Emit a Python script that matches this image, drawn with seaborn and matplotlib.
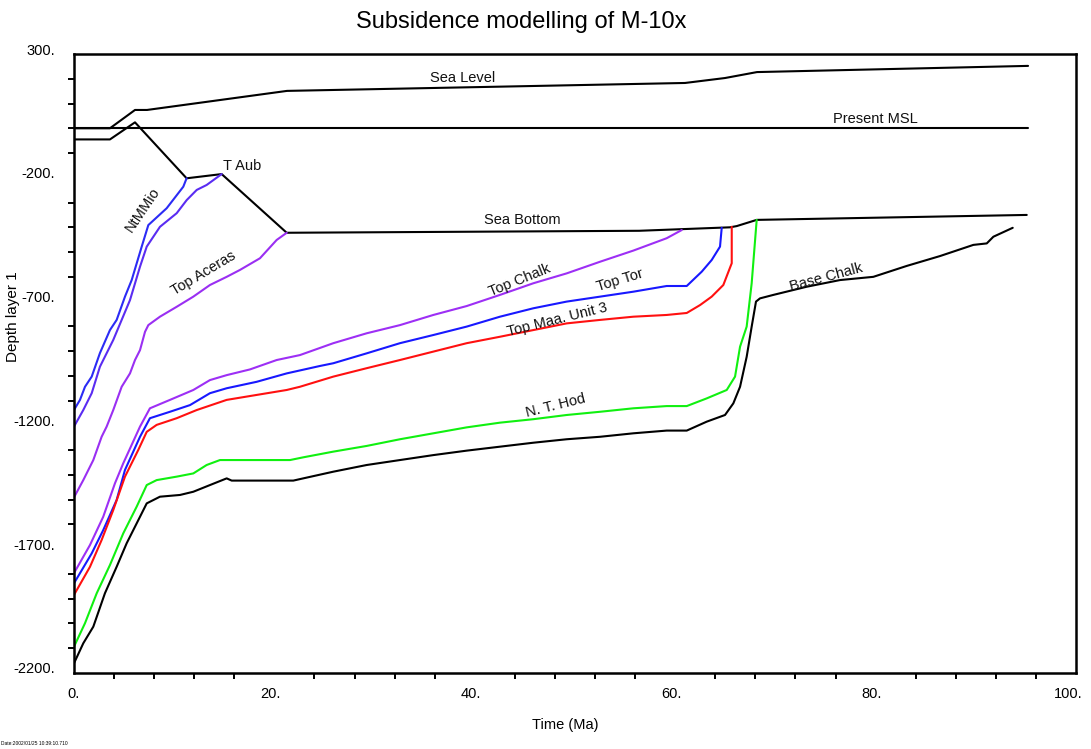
import numpy as np
import pandas as pd
import matplotlib
matplotlib.use("Agg")
import matplotlib.pyplot as plt
from matplotlib.ticker import MultipleLocator, FixedLocator
from matplotlib.transforms import ScaledTranslation
import seaborn as sns

# ---------------------------------------------------------------- data
# Time in Ma, depth in m (positive up)
sea_level_t = [0.0, 3.59, 6.09, 7.29, 21.26, 60.98, 64.97, 68.16, 95.21]
sea_level_d = [0, 0, 74, 74, 151, 183, 203, 227, 252]

msl_t = [0.0, 95.2]
msl_d = [0, 0]

sea_bottom_t = [0.0, 3.59, 6.09, 11.24, 14.74, 21.23, 56.4, 65.47, 66.14, 68.13, 95.08]
sea_bottom_d = [-45, -45, 24, -202, -185, -422, -414, -400, -395, -370, -350]

ntmmio_t = [0.0, 0.6, 1.1, 1.77, 2.59, 3.59, 4.26, 5.09, 5.76, 6.76, 7.42, 9.25, 10.91, 11.24]
ntmmio_d = [-1138, -1097, -1044, -1003, -908, -815, -774, -680, -613, -478, -391, -323, -236, -202]

taub_t = [0.0, 0.93, 1.77, 2.59, 3.92, 4.76, 5.59, 6.59, 7.26, 8.58, 10.25, 11.25, 12.25, 13.24, 14.74]
taub_d = [-1205, -1138, -1070, -963, -855, -774, -694, -559, -478, -398, -343, -290, -249, -229, -185]

aceras_t = [0.0, 0.93, 1.93, 2.76, 3.26, 3.92, 4.76, 5.59, 6.09, 6.59, 7.09, 7.42, 8.58, 10.25,
            11.91, 13.57, 15.24, 16.57, 18.56, 20.23, 21.23]
aceras_d = [-1491, -1421, -1340, -1246, -1205, -1138, -1044, -990, -936, -896, -822, -795, -761, -721,
            -680, -633, -600, -572, -525, -451, -422]

chalk_t = [0.0, 1.6, 2.92, 4.09, 4.92, 6.59, 7.58, 9.58, 11.91, 13.57, 15.24, 17.56, 20.23, 22.55,
           25.88, 29.21, 32.53, 35.86, 39.19, 42.51, 45.84, 49.17, 52.5, 55.82, 59.15, 60.65]
chalk_d = [-1797, -1683, -1569, -1434, -1353, -1205, -1131, -1097, -1057, -1017, -997, -974, -936, -916,
           -868, -828, -795, -754, -718, -673, -626, -586, -539, -494, -444, -411]

tor_t = [0.0, 1.77, 2.92, 4.26, 5.09, 6.59, 7.58, 9.58, 11.58, 13.57, 15.24, 18.23, 21.23, 24.55,
         25.88, 29.21, 32.53, 35.86, 39.19, 42.51, 45.84, 49.17, 52.5, 55.82, 59.15, 61.15,
         62.65, 63.64, 64.47, 64.64]
tor_d = [-1838, -1717, -1623, -1501, -1380, -1246, -1171, -1145, -1118, -1070, -1050, -1024, -990, -960,
         -949, -909, -868, -835, -801, -761, -727, -700, -680, -660, -637, -637,
         -579, -532, -478, -402]

maa_t = [0.0, 1.6, 2.76, 3.92, 5.09, 6.42, 7.26, 8.25, 10.25, 12.25, 15.24, 18.23, 21.23, 22.55,
         25.88, 29.21, 32.53, 35.86, 39.19, 42.51, 45.84, 49.17, 52.5, 55.82, 59.15, 61.15,
         62.48, 63.64, 64.8, 65.64, 65.64]
maa_d = [-1885, -1771, -1663, -1542, -1407, -1299, -1226, -1198, -1171, -1138, -1097, -1077, -1057, -1044,
         -1003, -969, -936, -902, -868, -842, -815, -788, -774, -761, -754, -746,
         -714, -680, -633, -545, -398]

hod_t = [0.0, 1.1, 2.27, 3.59, 4.92, 6.26, 7.26, 8.25, 10.25, 11.91, 13.24, 14.57, 21.56, 22.88,
         25.88, 29.21, 32.53, 35.86, 39.19, 42.51, 45.84, 49.17, 52.5, 55.82, 59.15, 61.15,
         63.14, 65.14, 65.97, 66.47, 67.13, 67.63, 68.13]
hod_d = [-2094, -1999, -1878, -1764, -1636, -1528, -1441, -1421, -1407, -1394, -1360, -1340, -1340, -1329,
         -1306, -1283, -1256, -1232, -1208, -1189, -1175, -1158, -1145, -1131, -1122, -1122,
         -1091, -1057, -1003, -882, -801, -626, -370]

base_t = [0.0, 0.93, 1.93, 3.09, 4.26, 5.26, 6.59, 7.26, 8.58, 10.58, 11.91, 13.57, 15.24, 15.74,
          21.89, 22.88, 25.88, 29.21, 32.53, 35.86, 39.19, 42.51, 45.84, 49.17, 52.5, 55.82,
          59.15, 61.15, 63.14, 64.97, 65.8, 66.47, 67.13, 67.63, 68.06, 68.46, 69.79, 73.12,
          76.45, 79.77, 83.1, 86.43, 89.75, 91.09, 91.75, 93.68]
base_d = [-2161, -2080, -2013, -1878, -1771, -1676, -1569, -1515, -1488, -1481, -1468, -1441, -1414, -1423,
          -1423, -1414, -1387, -1360, -1340, -1320, -1302, -1286, -1270, -1256, -1246, -1232,
          -1221, -1221, -1185, -1158, -1111, -1044, -923, -801, -700, -687, -673, -640,
          -613, -600, -556, -516, -471, -465, -438, -402]

y_major = [300, -200, -700, -1200, -1700, -2200]
y_major_labels = ["300.", "-200.", "-700.", "-1200.", "-1700.", "-2200."]
x_major = [0, 20, 40, 60, 80, 100]
x_major_labels = ["0.", "20.", "40.", "60.", "80.", "100."]

# ---------------------------------------------------------------- figure
sns.set_theme(style="white")
plt.rcParams["font.family"] = ["Liberation Sans", "DejaVu Sans"]

fig = plt.figure(figsize=(10.91, 7.49), dpi=100)
ax = fig.add_axes([0.0678, 0.1015, 0.9185, 0.8264])

curves = [
    (sea_level_t, sea_level_d, "black"),
    (msl_t, msl_d, "black"),
    (sea_bottom_t, sea_bottom_d, "black"),
    (ntmmio_t, ntmmio_d, "#2b2bf5"),
    (taub_t, taub_d, "#5a2cf2"),
    (aceras_t, aceras_d, "#9a2ff2"),
    (chalk_t, chalk_d, "#9d2ff5"),
    (tor_t, tor_d, "#1818ff"),
    (maa_t, maa_d, "#ff1010"),
    (hod_t, hod_d, "#10f010"),
    (base_t, base_d, "black"),
]
for t, d, c in curves:
    sns.lineplot(x=t, y=d, sort=False, estimator=None, color=c, lw=1.5, ax=ax)

# curve names
labels = [
    ("Sea Level", 38.8, 203, 0),
    ("Present MSL", 80.0, 37, 0),
    ("T Aub", 16.8, -152, 0),
    ("NtMMio", 6.9, -330, 56),
    ("Sea Bottom", 44.7, -370, 0),
    ("Top Aceras", 12.9, -586, 31),
    ("Top Chalk", 44.5, -613, 22),
    ("Top Tor", 54.5, -613, 17),
    ("Top Maa. Unit 3", 48.2, -772, 14),
    ("N. T. Hod", 48.1, -1122, 14),
    ("Base Chalk", 75.1, -602, 15),
]
for txt, lx, ly, rot in labels:
    ax.text(lx, ly, txt, fontsize=10.5, rotation=rot, ha="center", va="center",
            rotation_mode="anchor", color="#111111")

# axes
ax.set_xlim(0, 100)
ax.set_ylim(-2200, 300)
ax.xaxis.set_major_locator(FixedLocator(x_major))
ax.set_xticklabels(x_major_labels)
ax.yaxis.set_major_locator(FixedLocator(y_major))
ax.set_yticklabels(y_major_labels)
ax.xaxis.set_minor_locator(MultipleLocator(4))
ax.yaxis.set_minor_locator(MultipleLocator(100))
ax.tick_params(which="major", length=0, labelsize=10.5, colors="black")
ax.tick_params(axis="y", which="major", pad=13.5)
ax.tick_params(axis="x", which="major", pad=10)
ax.tick_params(which="minor", length=4, width=1.4, color="black", direction="out",
               bottom=True, left=True)
for lab in ax.get_yticklabels():
    lab.set_transform(lab.get_transform() + ScaledTranslation(0, 5 / 100, fig.dpi_scale_trans))
for lab in ax.get_xticklabels():
    lab.set_horizontalalignment("right")
    lab.set_transform(lab.get_transform() + ScaledTranslation(6 / 100, 0, fig.dpi_scale_trans))

for sp in ax.spines.values():
    sp.set_color("black")
    sp.set_linewidth(1.8)
ax.grid(False)

ax.set_xlabel("Time (Ma)", fontsize=10.5, color="black")
ax.set_ylabel("Depth layer 1", fontsize=11, color="black")
ax.xaxis.set_label_coords(0.49, -0.073)
ax.yaxis.set_label_coords(-0.054, 0.575)

fig.text(0.478, 1 - 22 / 749, "Subsidence modelling of M-10x", fontsize=17,
         ha="center", va="center", color="black")
fig.text(0.001, 0.004, "Date:2002/01/25 10:39:10.710", fontsize=3.5, color="black",
         ha="left", va="bottom")

fig.savefig("out.png", dpi=100)
